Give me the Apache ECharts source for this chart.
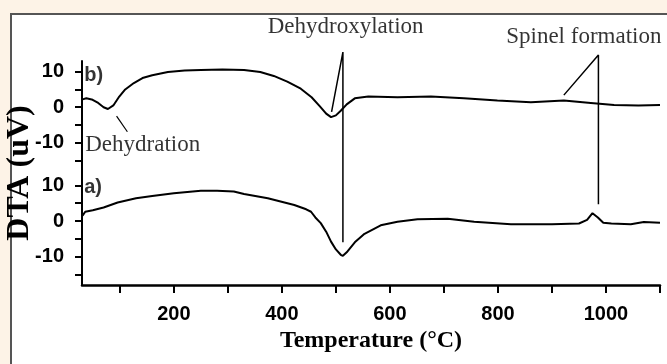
<!DOCTYPE html>
<html>
<head>
<meta charset="utf-8">
<script src="https://cdn.jsdelivr.net/npm/echarts@6/dist/echarts.min.js"></script>
<style>
  html, body { margin: 0; padding: 0; background: #fdf3e7; overflow: hidden; }
  #wrap { position: relative; width: 667px; height: 364px; }
  #frame {
    position: absolute; left: 10px; top: 13px; width: 700px; height: 400px;
    background: #fff; border-left: 2px solid #555; border-top: 2px solid #555;
  }
  #main { position: absolute; left: 0; top: 0; width: 667px; height: 364px; }
</style>
</head>
<body>
<div id="wrap">
  <div id="frame"></div>
  <div id="main"></div>
</div>
<script>
  // 曲线 a) 样品
  var tempA = [31, 36, 50, 70, 96, 130, 160, 200, 250, 280, 311, 330, 374, 423, 445, 454, 462, 472, 482, 491, 500, 509, 513, 520, 535, 553, 583, 614, 651, 707, 756, 824, 900, 950, 965, 975, 985, 995, 1010, 1046, 1070, 1100];
  var dtaA = [1.5, 2.6, 3.0, 3.8, 5.2, 6.4, 7.0, 7.8, 8.5, 8.5, 8.3, 7.6, 6.4, 4.5, 3.3, 2.6, 1.0, -0.6, -3.0, -5.8, -8.0, -9.5, -9.8, -8.8, -6.0, -3.6, -1.2, -0.2, 0.5, 0.6, -0.2, -0.9, -0.9, -0.7, 0.3, 2.2, 1.0, -0.5, -0.7, -0.9, -0.3, -0.5];

  // 曲线 b) 样品
  var tempB = [31, 38, 48, 60, 70, 78, 88, 99, 110, 126, 142, 160, 189, 220, 250, 290, 330, 360, 385, 410, 435, 455, 470, 482, 491, 500, 509, 520, 535, 560, 614, 676, 737, 799, 861, 922, 972, 1015, 1060, 1100];
  var dtaB = [2.2, 2.5, 2.2, 1.2, 0.0, -0.5, 0.5, 3.0, 5.0, 6.8, 8.2, 9.0, 9.9, 10.3, 10.5, 10.6, 10.5, 9.9, 8.8, 7.2, 5.2, 2.8, 0.3, -1.8, -2.8, -2.3, -1.0, 0.8, 2.5, 3.0, 2.8, 3.0, 2.5, 1.9, 1.4, 1.9, 1.2, 0.6, 0.5, 0.6];

  // b) 曲线整体上移
  var B_OFFSET = 32;

  var xTicks = [100, 200, 300, 400, 500, 600, 700, 800, 900, 1000, 1100];
  var xLabels = [200, 400, 600, 800, 1000];
  var yTicks = [-15, -10, -5, 0, 5, 10, 17, 22, 27, 32, 37, 42];
  var yLabels = [-10, 0, 10, 22, 32, 42];

  // 标注线 (坐标轴数值)
  var dehydroxLine = [[492, 30.7], [513, 47.5], [513, -6]];
  var spinelLine = [[922, 35.4], [986, 46.7], [986, 4.7]];
  var dehydrationLine = [[94, 29.5], [114, 25.1]];

  // 文字标注
  var notes = [
    { text: 'Dehydroxylation', x: 518, y: 54.5, pos: 'inside', kind: 'serif' },
    { text: 'Spinel formation', x: 959, y: 51.7, pos: 'inside', kind: 'serif' },
    { text: 'Dehydration', x: 36, y: 21.4, pos: 'right', kind: 'serif' },
    { text: 'b)', x: 34, y: 41, pos: 'right', kind: 'sans' },
    { text: 'a)', x: 34, y: 9.4, pos: 'right', kind: 'sans' }
  ];

  var myChart = echarts.init(document.getElementById('main'), null, { renderer: 'canvas' });

  function lineSeries(data, width) {
    return {
      type: 'line',
      data: data,
      symbol: 'none',
      clip: false,
      silent: true,
      lineStyle: { color: '#000', width: width }
    };
  }

  var option = {
    animation: false,
    backgroundColor: 'transparent',
    grid: { left: 82, right: 7, top: 61, bottom: 79, containLabel: false, outerBoundsMode: 'none' },
    xAxis: {
      type: 'value',
      min: 30,
      max: 1100,
      name: 'Temperature (°C)',
      nameLocation: 'middle',
      nameGap: 44,
      nameMoveOverlap: false,
      nameTextStyle: { fontFamily: 'Liberation Serif', fontWeight: 'bold', fontSize: 24, color: '#000' },
      axisLine: { onZero: false, lineStyle: { color: '#000', width: 2.5 } },
      axisTick: { show: true, inside: false, length: 8, customValues: xTicks, lineStyle: { color: '#000', width: 2 } },
      axisLabel: {
        customValues: xLabels,
        margin: 19,
        fontFamily: 'Liberation Sans',
        fontWeight: 'bold',
        fontSize: 20,
        color: '#000',
        formatter: function (v) { return String(v); }
      },
      splitLine: { show: false }
    },
    yAxis: {
      type: 'value',
      min: -18,
      max: 45,
      name: 'DTA (uV)',
      nameLocation: 'middle',
      nameGap: 46,
      nameMoveOverlap: false,
      nameTextStyle: { fontFamily: 'Liberation Serif', fontWeight: 'bold', fontSize: 32, color: '#000' },
      axisLine: { show: true, onZero: false, lineStyle: { color: '#000', width: 2 } },
      axisTick: { show: true, inside: false, length: 7, customValues: yTicks, lineStyle: { color: '#000', width: 2 } },
      axisLabel: {
        customValues: yLabels,
        margin: 18,
        fontFamily: 'Liberation Sans',
        fontWeight: 'bold',
        fontSize: 20,
        color: '#000',
        formatter: function (v) {
          return String(v > 16 ? v - B_OFFSET : v);
        }
      },
      splitLine: { show: false }
    },
    series: [
      lineSeries(tempA.map(function (t, i) { return [t, dtaA[i]]; }), 2),
      lineSeries(tempB.map(function (t, i) { return [t, dtaB[i] + B_OFFSET]; }), 2),
      lineSeries(dehydroxLine, 1.5),
      lineSeries(spinelLine, 1.5),
      lineSeries(dehydrationLine, 1.2),
      {
        type: 'scatter',
        symbolSize: 0,
        clip: false,
        silent: true,
        data: notes.map(function (n) {
          return {
            value: [n.x, n.y],
            label: {
              show: true,
              position: n.pos,
              distance: 0,
              formatter: n.text,
              color: '#000',
              fontFamily: n.kind === 'serif' ? 'Liberation Serif' : 'Liberation Sans',
              fontWeight: n.kind === 'serif' ? 'normal' : 'bold',
              fontSize: n.kind === 'serif' ? 23 : 20
            }
          };
        })
      }
    ]
  };
  // 使用刚指定的配置项和数据显示图表
  myChart.setOption(option, true);
</script>
</body>
</html>
